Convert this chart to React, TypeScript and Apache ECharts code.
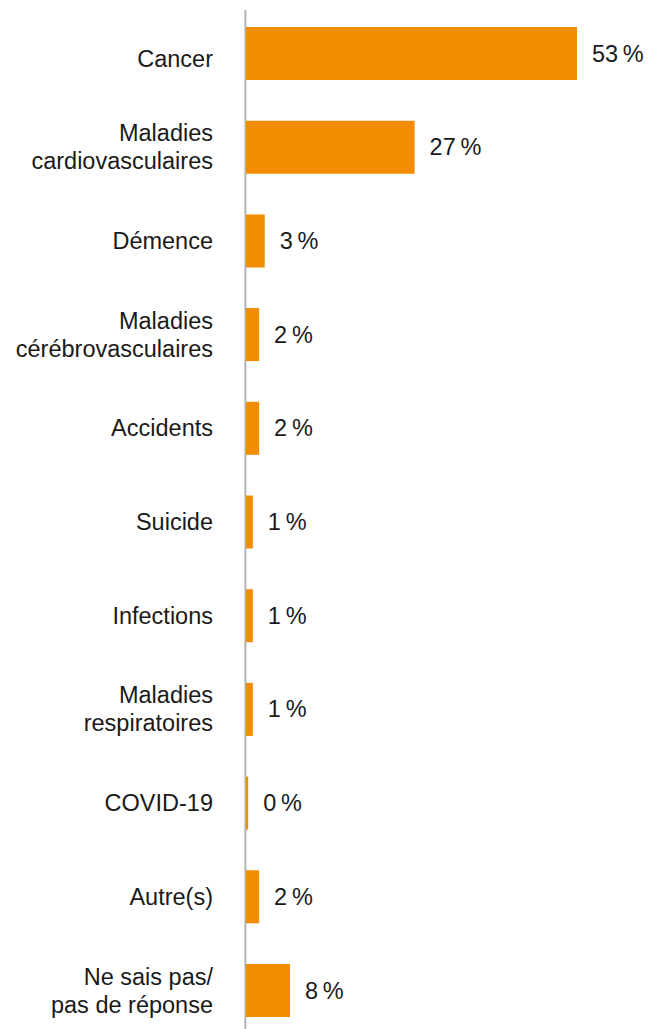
import React, { useEffect, useRef } from "react";
import * as echarts from "echarts";

const categories = [
  "Cancer",
  "Maladies\ncardiovasculaires",
  "Démence",
  "Maladies\ncérébrovasculaires",
  "Accidents",
  "Suicide",
  "Infections",
  "Maladies\nrespiratoires",
  "COVID-19",
  "Autre(s)",
  "Ne sais pas/\npas de réponse",
];
const values = [53, 27, 3, 2.1, 2.1, 1.1, 1.1, 1.1, 0.35, 2.1, 7.05];
const valueLabels = ["53", "27", "3", "2", "2", "1", "1", "1", "0", "2", "8"];

export default function App() {
  const ref = useRef<HTMLDivElement>(null);
  useEffect(() => {
    const chart = echarts.init(ref.current!, null, { renderer: "svg" });
    const gridLeft = 246;
    chart.setOption({
      animation: false,
      grid: { left: gridLeft, right: 35.3, top: 6.65, bottom: 2.65, containLabel: false },
      xAxis: { type: "value", min: 0, max: 60, show: false },
      yAxis: {
        type: "category",
        data: categories,
        inverse: true,
        axisLine: { show: false },
        axisTick: { show: false },
        axisLabel: {
          margin: 33,
          fontFamily: "Liberation Sans",
          fontSize: 23.5,
          color: "#1a1a1a",
          lineHeight: 28,
          align: "right",
          formatter: (v: string, i: number) => (i === 0 ? "{low|" + v + "}" : v),
          rich: {
            low: {
              fontFamily: "Liberation Sans",
              fontSize: 23.5,
              color: "#1a1a1a",
              padding: [10, 0, 0, 0],
            },
          },
        },
      },
      graphic: [
        {
          type: "line",
          shape: { x1: gridLeft - 0.6, y1: 10, x2: gridLeft - 0.6, y2: 1040 },
          style: { stroke: "#b3b3b3", lineWidth: 2 },
          z: 1,
        },
      ],
      series: [
        {
          type: "bar",
          z: 5,
          data: values,
          barWidth: 53,
          itemStyle: { color: "#F28C00" },
          label: {
            show: true,
            position: "right",
            distance: 15,
            fontFamily: "Liberation Sans",
            fontSize: 23.5,
            color: "#1a1a1a",
            formatter: (p: any) => valueLabels[p.dataIndex] + "\u202F%",
          },
        },
      ],
    });
    return () => chart.dispose();
  }, []);
  return (
    <div
      ref={ref}
      style={{ position: "absolute", left: 0, top: 0, width: 656, height: 1040 }}
    />
  );
}
